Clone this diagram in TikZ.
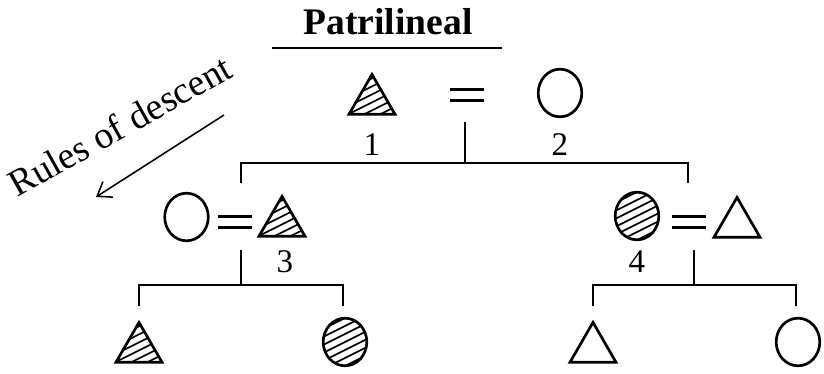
\documentclass[tikz,border=0pt]{standalone}
\usepackage{fontspec}
\setmainfont{Liberation Serif}
\usetikzlibrary{arrows.meta,shapes.geometric}

\begin{document}
\begin{tikzpicture}[
  x=0.025cm, y=-0.025cm,
  male/.style={regular polygon, regular polygon sides=3, draw, line width=1.9pt,
               minimum size=1.33cm, inner sep=0pt},
  female/.style={ellipse, draw, line width=1.9pt, minimum width=1.09cm,
                 minimum height=1.19cm, inner sep=0pt},
  hatch/.style={path picture={
      \foreach \k in {-6,...,6}
        \draw[line width=1.2pt] ([shift={(-1cm,\k*0.2cm-0.5cm)}]path picture bounding box.center)
          -- ([shift={(1cm,\k*0.2cm+0.5cm)}]path picture bounding box.center);}},
  eq/.style={minimum width=.82cm, minimum height=.26cm, inner sep=0pt},
  num/.style={font=\fontsize{23.5}{26}\selectfont, anchor=base},
  kin/.style={line width=1.4pt},
  eqline/.style={line width=1.9pt}
]
  \useasboundingbox (0,0) rectangle (824,374);

  \node[font=\fontsize{26.7}{30}\selectfont\bfseries, anchor=base] (title) at (388,35) {Patrilineal};
  \coordinate (ulL) at (272,48);
  \coordinate (ulR) at (502,48);
  \draw[line width=1.5pt] (ulL) -- (ulR);

  \node[font=\fontsize{26.8}{30}\selectfont, anchor=base, rotate=29.3] (rules) at (126,137) {Rules of descent};
  \coordinate (arrS) at (224,115);
  \coordinate (arrE) at (96,197);
  \draw[line width=1.1pt, -{Straight Barb[length=3.2mm, width=4.6mm]}] (arrS) -- (arrE);

  % first generation
  \node[male, hatch] (t1) at (372,101) {};
  \node[eq] (m1) at (467,95) {};
  \node[female] (c2) at (560,93) {};
  \node[num] (n1) at (372,155) {1};
  \node[num] (n2) at (560,155) {2};
  \coordinate (d1) at (465,122);
  \coordinate (j1) at (465,163);
  \coordinate (k1) at (241,183);
  \coordinate (k2) at (688,183);
  \draw[kin] (d1) -- (j1);
  \draw[kin] (k1) |- (j1) -| (k2);

  % second generation
  \node[female] (c3) at (186.5,217) {};
  \node[eq] (m2) at (235,222) {};
  \node[male, hatch] (t3) at (282,223) {};
  \node[num] (n3) at (285,272) {3};
  \node[female, hatch] (c4) at (637,216) {};
  \node[eq] (m3) at (689,222) {};
  \node[male] (t4) at (737,224) {};
  \node[num] (n4) at (637,272) {4};
  \draw[eqline] (m1.north west) -- (m1.north east) (m1.south west) -- (m1.south east)
                (m2.north west) -- (m2.north east) (m2.south west) -- (m2.south east)
                (m3.north west) -- (m3.north east) (m3.south west) -- (m3.south east);

  \coordinate (d2) at (241,250);
  \coordinate (j2) at (241,285);
  \coordinate (k3) at (139,306);
  \coordinate (k4) at (343,306);
  \draw[kin] (d2) -- (j2);
  \draw[kin] (k3) |- (j2) -| (k4);
  \coordinate (d3) at (694,250);
  \coordinate (j3) at (694,285);
  \coordinate (k5) at (593,306);
  \coordinate (k6) at (796,306);
  \draw[kin] (d3) -- (j3);
  \draw[kin] (k5) |- (j3) -| (k6);

  % third generation
  \node[male, hatch] (t5) at (139,349) {};
  \node[female, hatch] (c6) at (345,342) {};
  \node[male] (t7) at (593,349) {};
  \node[female] (c8) at (798,342) {};
\end{tikzpicture}
\end{document}
